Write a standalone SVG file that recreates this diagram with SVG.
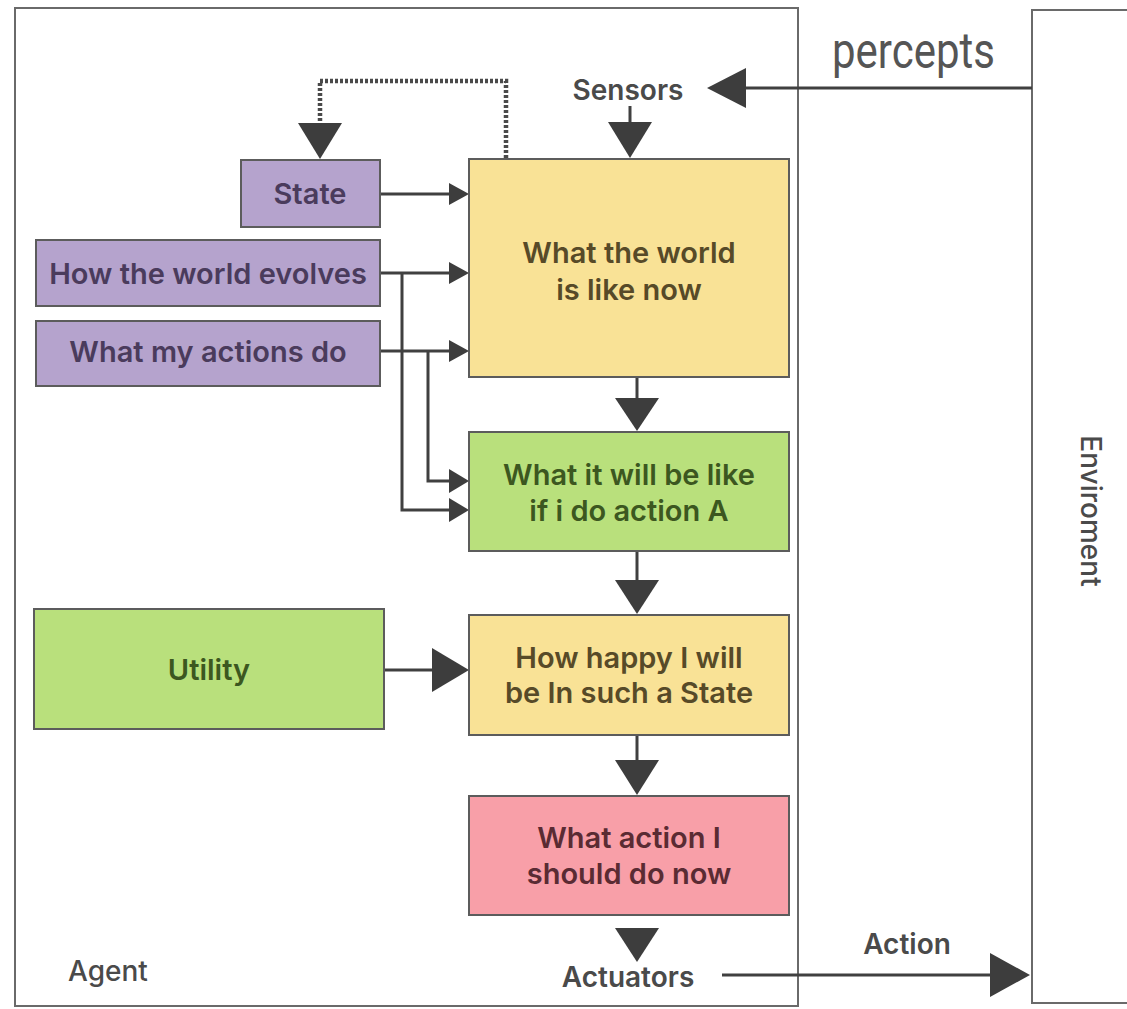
<svg xmlns="http://www.w3.org/2000/svg" width="1127" height="1009" viewBox="0 0 1127 1009">
  <style>
    .frame { fill: #ffffff; stroke: #6a6a6a; stroke-width: 2; }
    .node rect { stroke: #5c5c5c; stroke-width: 2; }
    .purple rect { fill: #b5a3cd; }
    .yellow rect { fill: #f9e296; }
    .green rect { fill: #b9e07c; }
    .pink rect { fill: #f89fa8; }
    .label { font-family: Inter, "Liberation Sans", sans-serif; font-weight: 600; font-size: 29px; text-anchor: middle; }
    .purple text { fill: #4a3b5c; }
    .yellow text { fill: #574a28; }
    .green text { fill: #3c5720; }
    .pink text { fill: #5a2b33; }
    .plain { font-family: Inter, "Liberation Sans", sans-serif; fill: #4a4a4a; font-size: 28px; }
    .wire { fill: none; stroke: #404040; stroke-width: 3; }
    .dots { fill: none; stroke: #4a4a4a; stroke-width: 4.5; stroke-dasharray: 3 2; }
    .head { fill: #3d3d3d; }
  </style>

  <!-- agent and environment frames -->
  <rect class="frame" x="15" y="8" width="783" height="998"/>
  <rect class="frame" x="1032" y="10" width="110" height="993"/>

  <!-- free labels -->
  <text x="832" y="68" font-family="Roboto, 'Liberation Sans', sans-serif" font-size="50" fill="#555555" textLength="163" lengthAdjust="spacingAndGlyphs">percepts</text>
  <text class="plain" x="628" y="100" text-anchor="middle" font-weight="600">Sensors</text>
  <text class="plain" x="628" y="987" text-anchor="middle" font-weight="600">Actuators</text>
  <text class="plain" x="907" y="954" text-anchor="middle" font-weight="600">Action</text>
  <text class="plain" x="68" y="981" font-weight="500" font-size="29">Agent</text>
  <text class="plain" x="0" y="0" font-size="26" font-weight="500" text-anchor="middle" transform="translate(1081 511) rotate(90)">Enviroment</text>

  <!-- connectors -->
  <g id="connectors">
    <!-- environment to sensors -->
    <line class="wire" x1="1032" y1="88" x2="740" y2="88"/>
    <polygon class="head" points="707,88 746,68 746,108"/>
    <!-- sensors down -->
    <line class="wire" x1="630" y1="106" x2="630" y2="124"/>
    <polygon class="head" points="630,158 608,122 652,122"/>
    <!-- feedback loop back to State -->
    <polyline class="dots" points="506,158 506,81 320,81 320,124"/>
    <polygon class="head" points="320,159 298,123 342,123"/>
    <!-- inputs to world model -->
    <line class="wire" x1="380" y1="194" x2="452" y2="194"/>
    <polygon class="head" points="469,194 449,183 449,205"/>
    <line class="wire" x1="380" y1="273" x2="452" y2="273"/>
    <polygon class="head" points="469,273 449,262 449,284"/>
    <line class="wire" x1="380" y1="351" x2="452" y2="351"/>
    <polygon class="head" points="469,351 449,340 449,362"/>
    <!-- branches into prediction -->
    <polyline class="wire" points="402,273 402,510 452,510"/>
    <polygon class="head" points="469,510 449,498 449,522"/>
    <polyline class="wire" points="428,351 428,481 452,481"/>
    <polygon class="head" points="469,481 449,469 449,493"/>
    <!-- main vertical chain -->
    <line class="wire" x1="637" y1="378" x2="637" y2="400"/>
    <polygon class="head" points="637,431 615,398 659,398"/>
    <line class="wire" x1="637" y1="551" x2="637" y2="582"/>
    <polygon class="head" points="637,614 615,580 659,580"/>
    <line class="wire" x1="637" y1="735" x2="637" y2="762"/>
    <polygon class="head" points="637,795 615,760 659,760"/>
    <polygon class="head" points="637,962 615,928 659,928"/>
    <!-- utility input -->
    <line class="wire" x1="384" y1="670" x2="436" y2="670"/>
    <polygon class="head" points="469,670 432,648 432,692"/>
    <!-- actuators to environment -->
    <line class="wire" x1="722" y1="975" x2="995" y2="975"/>
    <polygon class="head" points="1030,975 990,953 990,997"/>
  </g>

  <!-- nodes -->
  <g id="state" class="node purple">
    <rect x="241" y="160" width="139" height="67"/>
    <text class="label" x="310" y="204">State</text>
  </g>
  <g id="world-evolves" class="node purple">
    <rect x="36" y="240" width="344" height="66"/>
    <text class="label" x="208" y="284">How the world evolves</text>
  </g>
  <g id="action-effects" class="node purple">
    <rect x="36" y="321" width="344" height="65"/>
    <text class="label" x="208" y="362">What my actions do</text>
  </g>
  <g id="world-now" class="node yellow">
    <rect x="469" y="159" width="320" height="218"/>
    <text class="label" x="629" y="263">What the world</text>
    <text class="label" x="629" y="300">is like now</text>
  </g>
  <g id="prediction" class="node green">
    <rect x="469" y="432" width="320" height="119"/>
    <text class="label" x="629" y="485">What it will be like</text>
    <text class="label" x="629" y="521">if i do action A</text>
  </g>
  <g id="utility" class="node green">
    <rect x="34" y="609" width="350" height="120"/>
    <text class="label" x="209" y="680">Utility</text>
  </g>
  <g id="happiness" class="node yellow">
    <rect x="469" y="615" width="320" height="120"/>
    <text class="label" x="629" y="668">How happy I will</text>
    <text class="label" x="629" y="703">be In such a State</text>
  </g>
  <g id="decision" class="node pink">
    <rect x="469" y="796" width="320" height="119"/>
    <text class="label" x="629" y="848">What action I</text>
    <text class="label" x="629" y="884">should do now</text>
  </g>
</svg>
